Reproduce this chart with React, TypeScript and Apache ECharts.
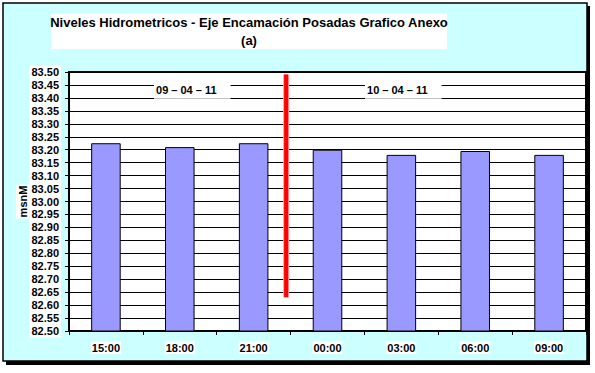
import React, { useEffect, useRef } from "react";
import * as echarts from "echarts";

const categories = ["15:00", "18:00", "21:00", "00:00", "03:00", "06:00", "09:00"];
const levels = [83.225, 83.21, 83.225, 83.2, 83.18, 83.195, 83.18];
const yMin = 82.5;
const yMax = 83.5;
const yStep = 0.05;
const yAxisName = "msnM";
const titleLines = ["Niveles Hidrometricos - Eje Encamación Posadas Grafico Anexo", "(a)"];
// day separator (in category units along x) and its vertical extent
const separatorX = 2.94;
const separatorRange = [82.63, 83.49];
// date annotations: name, x in category units (left edge), level
const dateNames = ["09 – 04 – 11", "10 – 04 – 11"];
const dateX = [1.151, 4.008];
const dateY = [83.43, 83.43];

const FONT = "'Liberation Sans', Arial, sans-serif";

export default function App() {
  const ref = useRef<HTMLDivElement>(null);
  useEffect(() => {
    if (!ref.current) return;
    const chart = echarts.init(ref.current, undefined, { renderer: "svg" });
    chart.setOption({
      animation: false,
      textStyle: { fontFamily: FONT },
      graphic: [
        { type: "rect", z: -10, shape: { x: 6, y: 6, width: 584, height: 359 }, style: { fill: "#000" } },
        { type: "rect", z: -9, shape: { x: 3, y: 3, width: 584, height: 358 }, style: { fill: "#CCFFFF", stroke: "#000", lineWidth: 1.5 } },
        { type: "rect", z: -8, shape: { x: 51, y: 13, width: 396, height: 36 }, style: { fill: "#fff" } },
        {
          type: "text",
          z: 10,
          x: 249,
          y: 13,
          style: {
            text: titleLines.join("\n"),
            align: "center",
            verticalAlign: "top",
            fontFamily: FONT,
            fontWeight: "bold",
            fontSize: 13,
            lineHeight: 18,
            fill: "#000",
          },
        },
      ],
      grid: {
        left: 69,
        right: 9,
        top: 72,
        bottom: 42,
        show: true,
        backgroundColor: "#fff",
        borderColor: "#000",
        borderWidth: 2,
      },
      xAxis: [
        {
          type: "category",
          data: categories,
          axisLine: { lineStyle: { color: "#000", width: 2 } },
          axisTick: { show: true, length: 4, lineStyle: { color: "#000" } },
          axisLabel: {
            color: "#000",
            fontWeight: "bold",
            fontSize: 11,
            fontFamily: FONT,
            margin: 10,
            backgroundColor: "#fff",
            padding: [1, 1],
          },
          splitLine: { show: false },
        },
        { type: "value", min: 0, max: 7, show: false },
      ],
      yAxis: {
        type: "value",
        min: yMin,
        max: yMax,
        interval: yStep,
        name: yAxisName,
        nameLocation: "middle",
        nameGap: 40,
        nameMoveOverlap: false,
        nameTextStyle: { color: "#000", fontWeight: "bold", fontSize: 11, fontFamily: FONT, backgroundColor: "#fff", padding: 1 },
        axisLine: { show: true, lineStyle: { color: "#000", width: 2 } },
        axisTick: { show: true, length: 4, lineStyle: { color: "#000" } },
        axisLabel: {
          color: "#000",
          fontWeight: "bold",
          fontSize: 11,
          fontFamily: FONT,
          margin: 8,
          backgroundColor: "#fff",
          padding: [1, 2],
          formatter: (v: number) => v.toFixed(2),
        },
        splitLine: { show: true, lineStyle: { color: "#000", width: 1 } },
      },
      series: [
        {
          type: "bar",
          data: levels,
          barWidth: "40%",
          itemStyle: { color: "#9999FF", borderColor: "#000", borderWidth: 1 },
        },
        {
          type: "line",
          xAxisIndex: 1,
          data: [[separatorX, separatorRange[0]], [separatorX, separatorRange[1]]],
          symbol: "none",
          lineStyle: { color: "#FF9999", width: 6 },
          z: 5,
        },
        {
          type: "line",
          xAxisIndex: 1,
          data: [[separatorX, separatorRange[0]], [separatorX, separatorRange[1]]],
          symbol: "none",
          lineStyle: { color: "#FF0000", width: 4 },
          z: 6,
        },
        {
          type: "scatter",
          xAxisIndex: 1,
          symbolSize: 0,
          itemStyle: { color: "#fff", opacity: 1 },
          z: 7,
          data: dateNames.map((n, i) => ({ name: n, value: [dateX[i], dateY[i]] })),
          label: {
            show: true,
            position: "right",
            distance: 0,
            formatter: "{b}",
            color: "#000",
            opacity: 1,
            fontWeight: 900,
            fontSize: 11,
            fontFamily: FONT,
            backgroundColor: "#fff",
            padding: [3, 14, 3, 2],
          },
        },
      ],
    });
    return () => chart.dispose();
  }, []);
  return <div ref={ref} style={{ position: "absolute", left: 0, top: 0, width: 595, height: 373 }} />;
}
